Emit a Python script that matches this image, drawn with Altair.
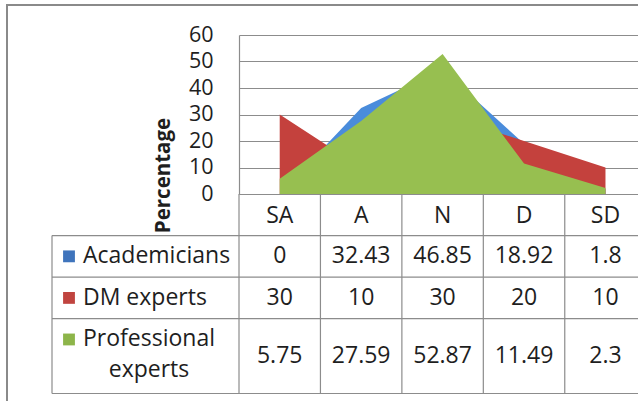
import altair as alt
import pandas as pd

# ---- data -------------------------------------------------------------
categories = ["SA", "A", "N", "D", "SD"]
series = ["Academicians", "DM experts", "Professional experts"]
academicians = [0, 32.43, 46.85, 18.92, 1.8]
dm_experts = [30, 10, 30, 20, 10]
professional_experts = [5.75, 27.59, 52.87, 11.49, 2.3]
y_ticks = [0, 10, 20, 30, 40, 50, 60]

# ---- style / layout ---------------------------------------------------
FONT = "Open Sans"
TEXT = "#1E1E1E"
GRID = "#8C8C8C"
AREA_COLORS = ["#4A8CDB", "#C4413D", "#97BF50"]
KEY_COLORS = ["#3F74BC", "#C0443F", "#8DB54A"]

PLOT_W = 399          # visible plot width
PLOT_H = 159          # plot height (0..60 %)
BAND_SPAN = 407.2     # five category columns, last one runs past the edge
LABEL_COL = 187       # series-name column left of the plot
TABLE_H = 199.5       # data table under the plot
header_units = 1
row_units = [1, 1, 1.8]              # body row heights in header-row units
wrapped = ["Professional experts"]   # names drawn on two lines

# ---- tables -----------------------------------------------------------
values_by_series = [academicians, dm_experts, professional_experts]
long_df = pd.DataFrame(
    [
        {"series": s, "category": c, "value": v, "label": f"{v:g}"}
        for s, vals in zip(series, values_by_series)
        for c, v in zip(categories, vals)
    ]
)

tops, acc = [], header_units
for u in row_units:
    tops.append(acc)
    acc += u
total_units = acc
rows_df = pd.DataFrame(
    {
        "series": series,
        "top": tops,
        "bottom": [t + u for t, u in zip(tops, row_units)],
        "mid": [t + u / 2 for t, u in zip(tops, row_units)],
        "key_y": [t + 0.5 for t in tops],   # centre of a row's first line
        "wrapped": [s in wrapped for s in series],
    }
)
cells_df = long_df.merge(rows_df, on="series")
hlines_df = pd.DataFrame({"y": [header_units] + list(rows_df["bottom"])})
vlines_df = pd.DataFrame(
    {"category": categories, "top": 0, "bottom": total_units}
)
label_edge_df = pd.DataFrame({"top": [header_units], "bottom": [total_units]})

# ---- scales & encodings -----------------------------------------------
x_scale = alt.Scale(
    type="band", domain=categories, range=[0, BAND_SPAN],
    paddingInner=0, paddingOuter=0,
)
x_axis = alt.Axis(
    title=None, ticks=False, grid=False, labelAngle=0,
    labelPadding=21, labelBaseline="middle", labelFontSize=23,
    labelFont=FONT, labelColor=TEXT, domainColor=GRID, domainWidth=1.2,
)
y_axis = alt.Axis(
    values=y_ticks, grid=True, gridColor=GRID, gridWidth=1.2,
    domainColor=GRID, domainWidth=1.2, ticks=False, labelOverlap=False,
    labelPadding=26, labelFontSize=21.5, labelFont=FONT, labelColor=TEXT,
    title="Percentage", titleFont=FONT, titleFontSize=20.5,
    titleFontWeight="bold", titleColor=TEXT, titleAngle=270,
    titleAlign="center", titleBaseline="middle", titleX=-76, titleY=140,
)
table_y = alt.Scale(
    domain=[0, total_units], range=[PLOT_H, PLOT_H + TABLE_H],
    nice=False, zero=False,
)


def cat_x(band_pos):
    return alt.X(
        "category:N", scale=x_scale, bandPosition=band_pos, axis=x_axis,
        title=None,
    )


# ---- areas (first series at the back) ---------------------------------
area_layers = []
for i, s in enumerate(series):
    area_layers.append(
        alt.Chart(long_df)
        .transform_filter(alt.datum.series == s)
        .mark_area(color=AREA_COLORS[i], opacity=1, interpolate="linear")
        .encode(
            x=cat_x(0.5),
            y=alt.Y(
                "value:Q", stack=None,
                scale=alt.Scale(domain=[0, 60], nice=False), axis=y_axis,
            ),
        )
    )
areas = alt.layer(*area_layers)

# ---- data table -------------------------------------------------------
hlines = alt.Chart(hlines_df).mark_rule(color=GRID, strokeWidth=1.2).encode(
    y=alt.Y("y:Q", scale=table_y, axis=None),
    x=alt.value(-LABEL_COL),
    x2=alt.value(PLOT_W),
)
vlines = alt.Chart(vlines_df).mark_rule(color=GRID, strokeWidth=1.2).encode(
    x=cat_x(0),
    y=alt.Y("top:Q", scale=table_y, axis=None),
    y2="bottom:Q",
)
label_edge = alt.Chart(label_edge_df).mark_rule(
    color=GRID, strokeWidth=1.2
).encode(
    x=alt.value(-LABEL_COL),
    y=alt.Y("top:Q", scale=table_y, axis=None),
    y2="bottom:Q",
)
keys = alt.Chart(rows_df).mark_square(size=140, opacity=1).encode(
    x=alt.value(-170),
    y=alt.Y("key_y:Q", scale=table_y, axis=None),
    color=alt.Color(
        "series:N", scale=alt.Scale(domain=series, range=KEY_COLORS),
        legend=None,
    ),
)
names_single = (
    alt.Chart(rows_df)
    .transform_filter("!datum.wrapped")
    .mark_text(align="left", baseline="middle", font=FONT, fontSize=23,
               color=TEXT)
    .encode(
        x=alt.value(-156),
        y=alt.Y("mid:Q", scale=table_y, axis=None),
        text="series:N",
    )
)
# wrapped names: first line sits level with the key square
names_wrapped = (
    alt.Chart(rows_df)
    .transform_filter("datum.wrapped")
    .mark_text(align="center", baseline="middle", font=FONT, fontSize=23,
               color=TEXT, lineBreak=" ", lineHeight=31)
    .encode(
        x=alt.value(-90),
        y=alt.Y("key_y:Q", scale=table_y, axis=None),
        text="series:N",
    )
)
cell_text = alt.Chart(cells_df).mark_text(
    align="center", baseline="middle", font=FONT, fontSize=23, color=TEXT
).encode(
    x=cat_x(0.5),
    y=alt.Y("mid:Q", scale=table_y, axis=None),
    text="label:N",
)
table = alt.layer(
    hlines, vlines, label_edge, keys, names_single, names_wrapped, cell_text
)

# ---- outer frame (top and left edges) ---------------------------------
frame_df = pd.DataFrame({"edge": ["frame"]})
frame_top = alt.Chart(frame_df).mark_rule(color="#8A8A8A", strokeWidth=2).encode(
    x=alt.value(-232), x2=alt.value(PLOT_W), y=alt.value(-30)
)
frame_left = alt.Chart(frame_df).mark_rule(color="#8A8A8A", strokeWidth=2).encode(
    x=alt.value(-232), y=alt.value(-31), y2=alt.value(PLOT_H + 210)
)

chart = (
    alt.layer(areas, table, frame_top, frame_left)
    .resolve_scale(y="independent")
    .properties(
        width=PLOT_W,
        height=PLOT_H,
        autosize=alt.AutoSizeParams(type="none"),
        padding={"left": 239, "top": 35, "right": 0, "bottom": 207},
        background="white",
    )
    .configure_view(stroke=None)
)

chart.save("out.html", embed_options={"renderer": "svg", "actions": False})
